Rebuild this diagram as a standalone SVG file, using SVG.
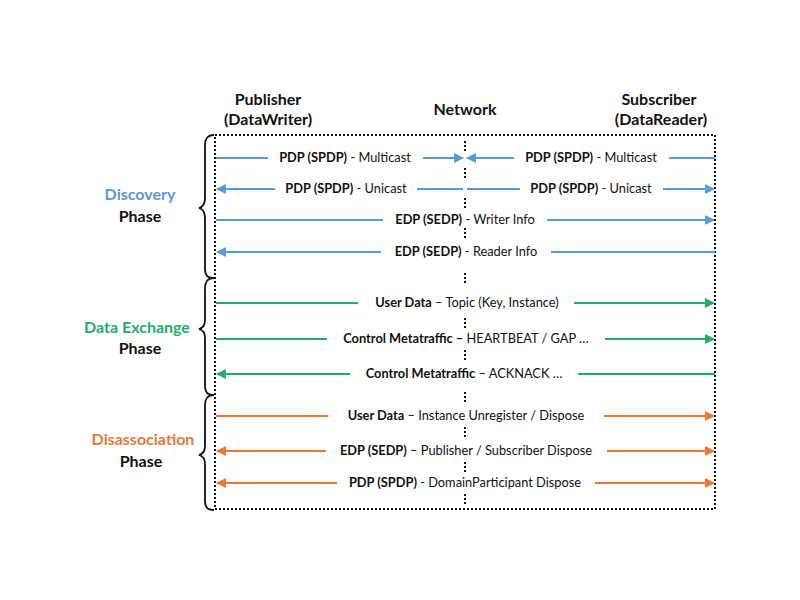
<svg xmlns="http://www.w3.org/2000/svg" width="800" height="600" viewBox="0 0 800 600">
<style>
text{font-family:Lato,"Open Sans","Liberation Sans",sans-serif;fill:#111}
.hd{font-size:16px;font-weight:bold;text-anchor:middle}
.ph{font-size:16px;font-weight:bold;text-anchor:middle}
.lb{font-size:12.8px;text-anchor:middle}
.b{font-weight:bold}
.dot{stroke:#111;stroke-width:2;stroke-dasharray:2 2;fill:none}
.brace{stroke:#111;stroke-width:1.8;fill:none}
.blue{stroke:#5B9BD5;stroke-width:2.2;fill:none}
.green{stroke:#1FAE6A;stroke-width:2.2;fill:none}
.orange{stroke:#E9793A;stroke-width:2.2;fill:none}
</style>
<defs>
<marker id="ab" viewBox="0 0 10 10" refX="9" refY="5" markerWidth="4.5" markerHeight="4.5" orient="auto-start-reverse"><path d="M0,0 L10,5 L0,10 z" fill="#5B9BD5"/></marker>
<marker id="ag" viewBox="0 0 10 10" refX="9" refY="5" markerWidth="4.5" markerHeight="4.5" orient="auto-start-reverse"><path d="M0,0 L10,5 L0,10 z" fill="#1FAE6A"/></marker>
<marker id="ao" viewBox="0 0 10 10" refX="9" refY="5" markerWidth="4.5" markerHeight="4.5" orient="auto-start-reverse"><path d="M0,0 L10,5 L0,10 z" fill="#E9793A"/></marker>
</defs>
<rect width="800" height="600" fill="#fff"/>

<g id="headers">
<g id="publisher"><text class="hd" x="268" y="105">Publisher</text><text class="hd" x="268" y="125">(DataWriter)</text></g>
<g id="network"><text class="hd" x="465" y="115">Network</text></g>
<g id="subscriber"><text class="hd" x="659" y="105">Subscriber</text><text class="hd" x="661" y="125">(DataReader)</text></g>
</g>

<g id="frame">
<rect class="dot" x="215" y="135" width="500" height="374"/>
</g>

<g id="network-axis">
<path class="dot" d="M465,141V153 M465,168V180 M465,198V210 M465,228V240 M465,273V285 M465,318V330 M465,350V362 M465,392V402 M465,427V439 M465,462V474 M465,494V506"/>
</g>

<g id="phases">
<g id="discovery-phase">
<path class="brace" d="M214,135 C207,135 205,139 205,146 L205,198 C205,204 203,207 199,208 C203,209 205,212 205,218 L205,268 C205,275 207,278 214,278"/>
<text class="ph" x="140" y="200" style="fill:#5B9BD5">Discovery</text>
<text class="ph" x="140" y="222">Phase</text>
</g>
<g id="exchange-phase">
<path class="brace" d="M214,278 C207,278 205,282 205,289 L205,320 C205,325 203,328 199,329 C203,330 205,333 205,338 L205,385 C205,392 207,395 214,395"/>
<text class="ph" x="137" y="333" style="fill:#1FAE6A">Data Exchange</text>
<text class="ph" x="140" y="354">Phase</text>
</g>
<g id="disassociation-phase">
<path class="brace" d="M214,395 C207,395 205,399 205,406 L205,446 C205,451 203,454 199,455 C203,456 205,459 205,464 L205,500 C205,507 207,510 214,510"/>
<text class="ph" x="143" y="445" style="fill:#E9793A">Disassociation</text>
<text class="ph" x="141" y="467">Phase</text>
</g>
</g>

<g id="connectors">
<path class="blue" d="M216,158H268"/>
<path class="blue" d="M423,158H463" marker-end="url(#ab)"/>
<path class="blue" d="M467,158H514" marker-start="url(#ab)"/>
<path class="blue" d="M669,158H715"/>

<path class="blue" d="M217,189H275" marker-start="url(#ab)"/>
<path class="blue" d="M417,189H463"/>
<path class="blue" d="M467,189H520"/>
<path class="blue" d="M663,189H714" marker-end="url(#ab)"/>

<path class="blue" d="M216,220H383"/>
<path class="blue" d="M547,220H714" marker-end="url(#ab)"/>

<path class="blue" d="M217,252H381" marker-start="url(#ab)"/>
<path class="blue" d="M551,252H715"/>

<path class="green" d="M216,303H358"/>
<path class="green" d="M574,303H714" marker-end="url(#ag)"/>

<path class="green" d="M216,339H327"/>
<path class="green" d="M605,339H714" marker-end="url(#ag)"/>

<path class="green" d="M217,374H350" marker-start="url(#ag)"/>
<path class="green" d="M578,374H715"/>

<path class="orange" d="M216,416H328"/>
<path class="orange" d="M604,416H714" marker-end="url(#ao)"/>

<path class="orange" d="M217,451H326" marker-start="url(#ao)"/>
<path class="orange" d="M607,451H714" marker-end="url(#ao)"/>

<path class="orange" d="M217,483H337" marker-start="url(#ao)"/>
<path class="orange" d="M595,483H714" marker-end="url(#ao)"/>
</g>

<g id="labels">
<text class="lb" x="345" y="162"><tspan class="b">PDP (SPDP)</tspan> - Multicast</text>
<text class="lb" x="591" y="162"><tspan class="b">PDP (SPDP)</tspan> - Multicast</text>
<text class="lb" x="346" y="193"><tspan class="b">PDP (SPDP)</tspan> - Unicast</text>
<text class="lb" x="591" y="193"><tspan class="b">PDP (SPDP)</tspan> - Unicast</text>
<text class="lb" x="465" y="224"><tspan class="b">EDP (SEDP)</tspan> - Writer Info</text>
<text class="lb" x="466" y="256"><tspan class="b">EDP (SEDP)</tspan> - Reader Info</text>
<text class="lb" x="467" y="307"><tspan class="b">User Data</tspan> – Topic (Key, Instance)</text>
<text class="lb" x="466" y="343"><tspan class="b">Control Metatraffic –</tspan> HEARTBEAT / GAP …</text>
<text class="lb" x="464" y="378"><tspan class="b">Control Metatraffic</tspan> – ACKNACK  …</text>
<text class="lb" x="466" y="420"><tspan class="b">User Data</tspan> – Instance Unregister / Dispose</text>
<text class="lb" x="466" y="455"><tspan class="b">EDP (SEDP)</tspan> – Publisher / Subscriber Dispose</text>
<text class="lb" x="465" y="487"><tspan class="b">PDP (SPDP)</tspan> - DomainParticipant Dispose</text>
</g>
</svg>
